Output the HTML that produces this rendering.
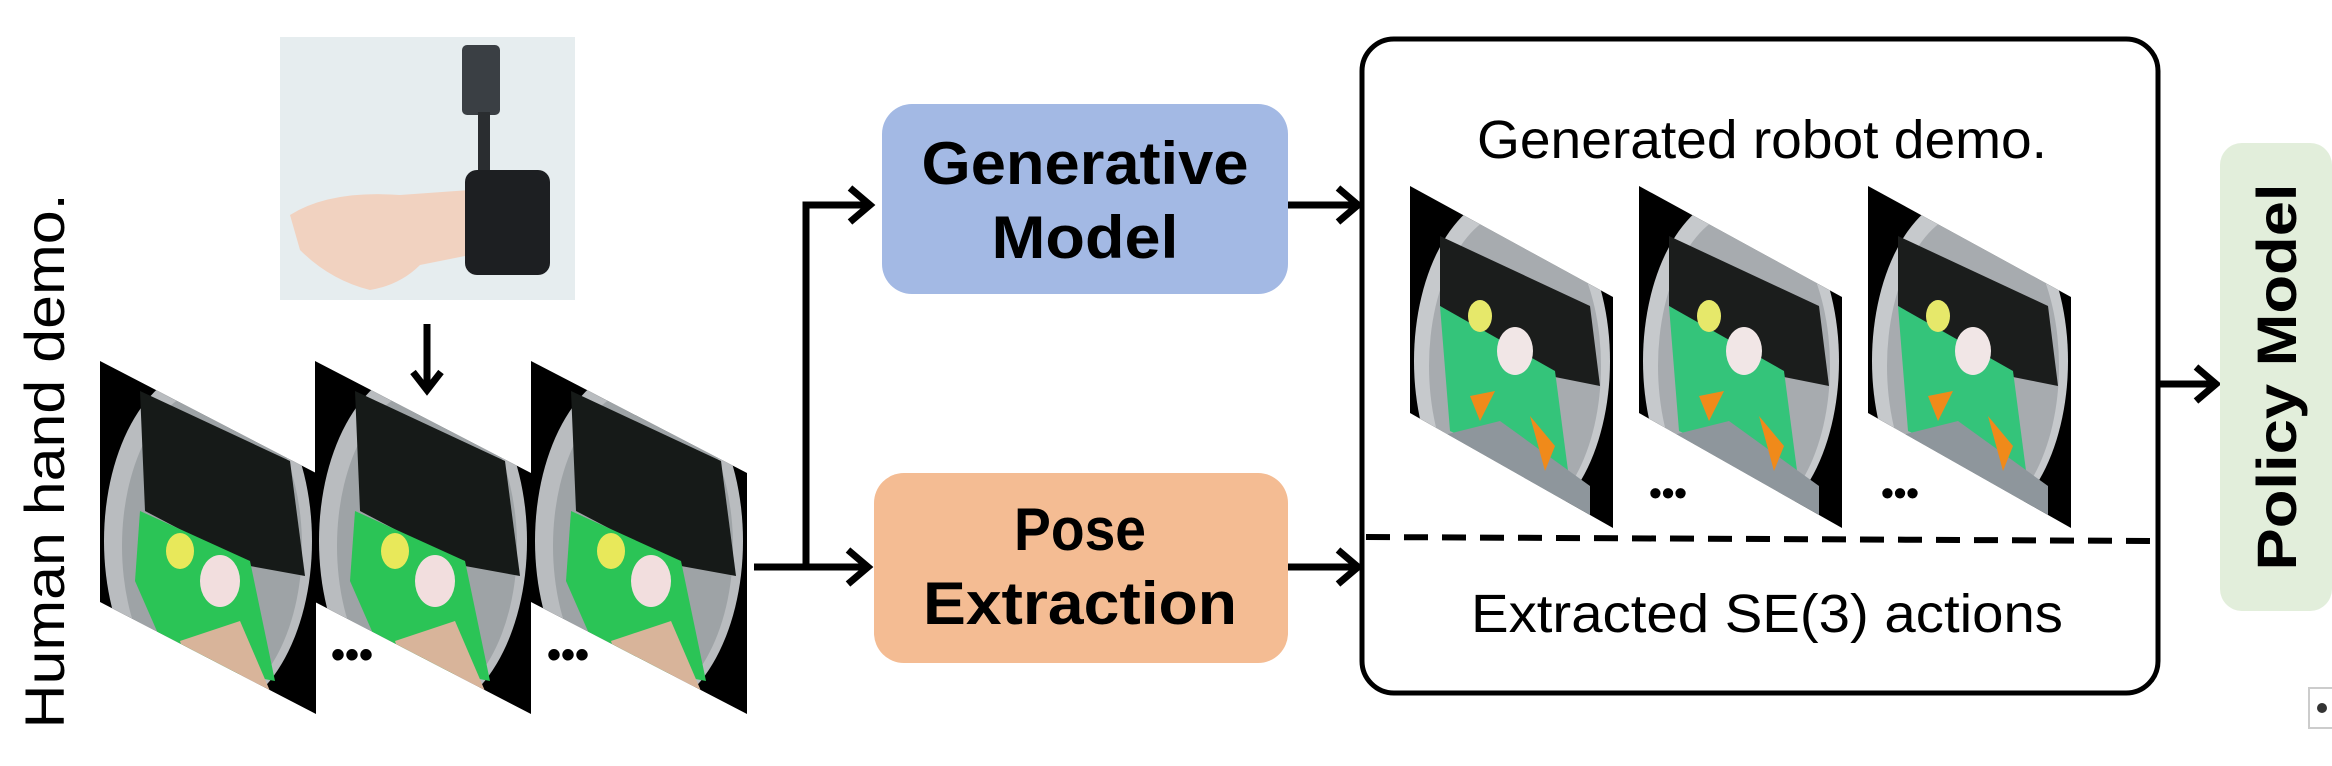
<!DOCTYPE html>
<html><head><meta charset="utf-8"><style>
html,body{margin:0;padding:0;background:#fff;}
svg{display:block;}
</style></head><body>
<svg width="2332" height="766" viewBox="0 0 2332 766" xmlns="http://www.w3.org/2000/svg">
<defs>
<clipPath id="ch"><polygon points="0,0 216,112 216,353 0,241"/></clipPath>
<g id="hf">
<polygon points="0,0 216,112 216,353 0,241" fill="#000"/>
<g clip-path="url(#ch)">
<ellipse cx="108" cy="180" rx="104" ry="174" fill="#b9bcbf"/>
<ellipse cx="112" cy="185" rx="90" ry="158" fill="#9ea3a6"/>
<polygon points="40,30 190,100 205,215 150,205 45,150" fill="#161a18"/>
<polygon points="40,150 150,200 175,320 70,300 35,220" fill="#2bc456"/>
<ellipse cx="80" cy="190" rx="14" ry="18" fill="#e8e85a"/>
<ellipse cx="120" cy="220" rx="20" ry="26" fill="#f2dede"/>
<polygon points="80,280 140,260 170,330 100,345" fill="#d8b49a"/>
</g>
</g>
<clipPath id="cr"><polygon points="0,0 203,111 203,342 0,227"/></clipPath>
<g id="rf">
<polygon points="0,0 203,111 203,342 0,227" fill="#000"/>
<g clip-path="url(#cr)">
<ellipse cx="102" cy="175" rx="98" ry="168" fill="#c6c9cc"/>
<ellipse cx="105" cy="180" rx="86" ry="155" fill="#a7abaf"/>
<polygon points="30,50 180,120 190,200 140,190 30,120" fill="#1b1d1c"/>
<polygon points="30,120 145,185 160,300 40,245" fill="#34c47a"/>
<ellipse cx="70" cy="130" rx="12" ry="16" fill="#e6e86a"/>
<ellipse cx="105" cy="165" rx="18" ry="24" fill="#f1e6e6"/>
<polygon points="30,250 90,235 180,300 180,340 60,320" fill="#8e969c"/>
<polygon points="60,210 85,205 70,235" fill="#f08a1a"/>
<polygon points="120,230 145,260 135,285" fill="#f08a1a"/>
</g>
</g>
</defs>

<rect x="280" y="37" width="295" height="263" fill="#e6edef"/>
<rect x="462" y="45" width="38" height="70" rx="5" fill="#3a3f44"/>
<rect x="478" y="112" width="12" height="60" fill="#2a2d30"/>
<path d="M290 215 Q330 190 400 195 L470 190 L470 255 L420 265 Q400 285 370 290 Q330 280 300 250 Z" fill="#f1d2c0"/>
<rect x="465" y="170" width="85" height="105" rx="12" fill="#1d1f22"/>

<line x1="427" y1="324" x2="427" y2="388" stroke="#000" stroke-width="7"/>
<polyline points="413,372 427,390 441,372" fill="none" stroke="#000" stroke-width="7"/>

<use href="#hf" x="100" y="361"/>
<use href="#hf" x="315" y="361"/>
<use href="#hf" x="531" y="361"/>
<text x="352" y="668" font-family="Liberation Sans, sans-serif" font-weight="bold" font-size="40" text-anchor="middle">•••</text>
<text x="568" y="668" font-family="Liberation Sans, sans-serif" font-weight="bold" font-size="40" text-anchor="middle">•••</text>

<text transform="translate(64,461) rotate(-90)" font-family="Liberation Sans, sans-serif" font-size="56" text-anchor="middle" textLength="535" lengthAdjust="spacingAndGlyphs">Human hand demo.</text>

<g stroke="#000" stroke-width="7" fill="none">
<polyline points="754,567 866,567"/>
<polyline points="806,567 806,205 868,205"/>
<polyline points="850,188 870,205 850,222"/>
<polyline points="848,550 868,567 848,584"/>
<line x1="1288" y1="205" x2="1356" y2="205"/>
<polyline points="1338,188 1358,205 1338,222"/>
<line x1="1288" y1="567" x2="1356" y2="567"/>
<polyline points="1338,550 1358,567 1338,584"/>
<line x1="2160" y1="384" x2="2214" y2="384"/>
<polyline points="2196,367 2216,384 2196,401"/>
</g>

<rect x="882" y="104" width="406" height="190" rx="30" fill="#a3b9e4"/>
<text x="1085" y="184" font-family="Liberation Sans, sans-serif" font-weight="bold" font-size="60" text-anchor="middle" textLength="327" lengthAdjust="spacingAndGlyphs">Generative</text>
<text x="1085" y="258" font-family="Liberation Sans, sans-serif" font-weight="bold" font-size="60" text-anchor="middle" textLength="187" lengthAdjust="spacingAndGlyphs">Model</text>
<rect x="874" y="473" width="414" height="190" rx="30" fill="#f4bc93"/>
<text x="1080" y="550" font-family="Liberation Sans, sans-serif" font-weight="bold" font-size="60" text-anchor="middle" textLength="132" lengthAdjust="spacingAndGlyphs">Pose</text>
<text x="1080" y="624" font-family="Liberation Sans, sans-serif" font-weight="bold" font-size="60" text-anchor="middle" textLength="314" lengthAdjust="spacingAndGlyphs">Extraction</text>

<rect x="1362" y="39" width="796" height="654" rx="32" fill="none" stroke="#000" stroke-width="5"/>
<text x="1762" y="158" font-family="Liberation Sans, sans-serif" font-size="54" text-anchor="middle" textLength="570" lengthAdjust="spacingAndGlyphs">Generated robot demo.</text>
<use href="#rf" x="1410" y="186"/>
<use href="#rf" x="1639" y="186"/>
<use href="#rf" x="1868" y="186"/>
<text x="1668" y="505" font-family="Liberation Sans, sans-serif" font-weight="bold" font-size="36" text-anchor="middle">•••</text>
<text x="1900" y="505" font-family="Liberation Sans, sans-serif" font-weight="bold" font-size="36" text-anchor="middle">•••</text>
<line x1="1366" y1="537" x2="2160" y2="541" stroke="#000" stroke-width="6" stroke-dasharray="24,14"/>
<text x="1767" y="632" font-family="Liberation Sans, sans-serif" font-size="54" text-anchor="middle" textLength="592" lengthAdjust="spacingAndGlyphs">Extracted SE(3) actions</text>

<rect x="2220" y="143" width="112" height="468" rx="22" fill="#e2eedb"/>
<text transform="translate(2296,377) rotate(-90)" font-family="Liberation Sans, sans-serif" font-weight="bold" font-size="56" text-anchor="middle" textLength="387" lengthAdjust="spacingAndGlyphs">Policy Model</text>
<rect x="2309" y="688" width="24" height="40" fill="#fff" stroke="#ccc" stroke-width="2"/>
<circle cx="2322" cy="708" r="5" fill="#333"/>
</svg>
</body></html>
